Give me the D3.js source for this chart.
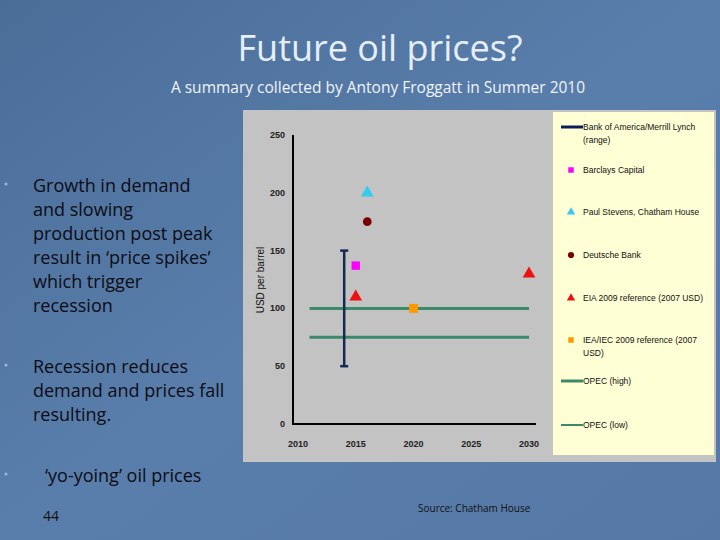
<!DOCTYPE html>
<html><head><meta charset="utf-8">
<script src="https://cdn.jsdelivr.net/npm/d3@7"></script>
<style>body{margin:0}svg{display:block}</style>
</head><body>
<script>
// forecast data (year, USD per barrel)
var rangeBofA = [{year: 2014, low: 50, high: 150}];
var barclays = [{year: 2015, value: 137}];
var stevens = [{year: 2016, value: 200}];
var deutsche = [{year: 2016, value: 175}];
var eia = [{year: 2015, value: 110}, {year: 2030, value: 130}];
var iea = [{year: 2020, value: 100}];
var opecHigh = [{year: 2011, value: 100}, {year: 2030, value: 100}];
var opecLow = [{year: 2011, value: 75}, {year: 2030, value: 75}];
var xTicks = [2010, 2015, 2020, 2025, 2030];
var yTicks = [0, 50, 100, 150, 200, 250];
var legendItems = [
  {label: ["Bank of America/Merrill Lynch", "(range)"], kind: "line", color: "#0a1a5c", w: 3},
  {label: ["Barclays Capital"], kind: "square", color: "#ff00ff"},
  {label: ["Paul Stevens, Chatham House"], kind: "triangle", color: "#33ccee"},
  {label: ["Deutsche Bank"], kind: "circle", color: "#7a0000"},
  {label: ["EIA 2009 reference (2007 USD)"], kind: "triangle", color: "#ee1111"},
  {label: ["IEA/IEC 2009 reference (2007", "USD)"], kind: "square", color: "#ff9900"},
  {label: ["OPEC (high)"], kind: "line", color: "#3a8a6a", w: 3},
  {label: ["OPEC (low)"], kind: "line", color: "#3a8a6a", w: 2}
];
var bullets = [
  {y: 186, lines: ["Growth in demand", "and slowing", "production post peak", "result in ‘price spikes’", "which trigger", "recession"], x: 33},
  {y: 367, lines: ["Recession reduces", "demand and prices fall", "resulting."], x: 33},
  {y: 476, lines: ["‘yo-yoing’ oil prices"], x: 45}
];

var svg = d3.select("body").append("svg").attr("width", 720).attr("height", 540);
var defs = svg.append("defs");
var grad = defs.append("linearGradient").attr("id", "bg").attr("x1", 0).attr("y1", 0).attr("x2", 1).attr("y2", 1);
grad.append("stop").attr("offset", 0).attr("stop-color", "#4a6d98");
grad.append("stop").attr("offset", 0.5).attr("stop-color", "#5a7eab");
grad.append("stop").attr("offset", 1).attr("stop-color", "#5578a6");
svg.append("rect").attr("width", 720).attr("height", 540).attr("fill", "url(#bg)");

svg.append("text").attr("x", 380).attr("y", 61).attr("text-anchor", "middle")
  .attr("font-family", "Open Sans").attr("font-size", 36).attr("fill", "#e6eefa").text("Future oil prices?");
svg.append("text").attr("x", 378).attr("y", 93).attr("text-anchor", "middle")
  .attr("font-family", "Open Sans").attr("font-size", 15.5).attr("fill", "#f0f4fb")
  .text("A summary collected by Antony Froggatt in Summer 2010");

bullets.forEach(function(b) {
  svg.append("circle").attr("cx", 6).attr("cy", b.y - 2).attr("r", 1.5).attr("fill", "#9ab8dc");
  b.lines.forEach(function(l, i) {
    svg.append("text").attr("x", b.x).attr("y", b.y + 6 + i * 24)
      .attr("font-family", "Open Sans").attr("font-size", 18).attr("fill", "#0c0c14").text(l);
  });
});
svg.append("text").attr("x", 43).attr("y", 521).attr("font-family", "Open Sans").attr("font-size", 14).attr("fill", "#111").text("44");
svg.append("text").attr("x", 418).attr("y", 512).attr("font-family", "Open Sans").attr("font-size", 10).attr("fill", "#111").text("Source:  Chatham House");

// chart panel
svg.append("rect").attr("x", 243).attr("y", 110).attr("width", 473).attr("height", 352).attr("fill", "#c3c3c3");
svg.append("rect").attr("x", 553).attr("y", 112).attr("width", 161).attr("height", 343).attr("fill", "#ffffd6");
var x = d3.scaleLinear().domain([2010, 2030]).range([298, 529]);
var y = d3.scaleLinear().domain([0, 250]).range([424, 135]);

var chart = svg.append("g").attr("font-family", "Liberation Sans");
chart.append("line").attr("x1", 293).attr("x2", 293).attr("y1", 135).attr("y2", 425).attr("stroke", "#000").attr("stroke-width", 2);
chart.append("line").attr("x1", 292).attr("x2", 536).attr("y1", 424).attr("y2", 424).attr("stroke", "#000").attr("stroke-width", 2);
chart.selectAll(".yt").data(yTicks).join("text").attr("x", 285).attr("y", function(d) { return y(d) + 3; })
  .attr("text-anchor", "end").attr("font-size", 9).attr("font-weight", "bold").attr("fill", "#222").text(function(d) { return d; });
chart.selectAll(".xt").data(xTicks).join("text").attr("x", function(d) { return x(d); }).attr("y", 447)
  .attr("text-anchor", "middle").attr("font-size", 9).attr("font-weight", "bold").attr("fill", "#222").text(function(d) { return d; });
chart.append("text").attr("transform", "translate(264,280) rotate(-90)").attr("text-anchor", "middle")
  .attr("font-size", 10).attr("fill", "#111").text("USD per barrel");

var line = d3.line().x(function(d) { return x(d.year); }).y(function(d) { return y(d.value); });
[opecHigh, opecLow].forEach(function(s) {
  chart.append("path").datum(s).attr("d", line).attr("stroke", "#3a8a6a").attr("stroke-width", 3).attr("fill", "none");
});
rangeBofA.forEach(function(r) {
  var g = chart.append("g").attr("stroke", "#142a55").attr("stroke-width", 2.5);
  g.append("line").attr("x1", x(r.year)).attr("x2", x(r.year)).attr("y1", y(r.low)).attr("y2", y(r.high));
  [r.low, r.high].forEach(function(v) {
    g.append("line").attr("x1", x(r.year) - 4).attr("x2", x(r.year) + 4).attr("y1", y(v)).attr("y2", y(v));
  });
});
function pts(data, type, color, size) {
  chart.selectAll(null).data(data).join("path")
    .attr("transform", function(d) { return "translate(" + x(d.year) + "," + y(d.value) + ")"; })
    .attr("d", d3.symbol().type(type).size(size)).attr("fill", color);
}
pts(barclays, d3.symbolSquare, "#ff00ff", 70);
pts(stevens, d3.symbolTriangle, "#33ccee", 70);
pts(deutsche, d3.symbolCircle, "#7a0000", 60);
pts(eia, d3.symbolTriangle, "#ee1111", 70);
pts(iea, d3.symbolSquare, "#ff9900", 80);

// legend
var ly = [127, 170, 212, 255, 298, 340, 381, 425];
legendItems.forEach(function(it, i) {
  var g = chart.append("g").attr("transform", "translate(0," + ly[i] + ")");
  if (it.kind === "line") {
    g.append("line").attr("x1", 561).attr("x2", 583).attr("y1", 0).attr("y2", 0).attr("stroke", it.color).attr("stroke-width", it.w);
  } else {
    var t = it.kind === "square" ? d3.symbolSquare : it.kind === "circle" ? d3.symbolCircle : d3.symbolTriangle;
    g.append("path").attr("transform", "translate(571,0)").attr("d", d3.symbol().type(t).size(30)).attr("fill", it.color);
  }
  it.label.forEach(function(l, j) {
    g.append("text").attr("x", 583).attr("y", 3 + j * 13).attr("font-size", 8.5).attr("fill", "#111").text(l);
  });
});
</script>
</body></html>
